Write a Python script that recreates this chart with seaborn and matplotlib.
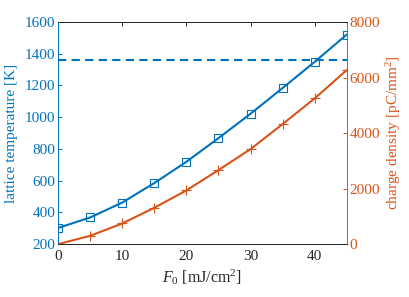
import numpy as np
import pandas as pd
import matplotlib
matplotlib.use('Agg')
import matplotlib.pyplot as plt
import seaborn as sns

fluence = [0, 5, 10, 15, 20, 25, 30, 35, 40, 45]
lattice_temp = [302, 368, 462, 585, 719, 868, 1022, 1184, 1349, 1521]
charge_density = [0, 300, 745, 1310, 1935, 2667, 3423, 4324, 5250, 6270]
melting_temp = 1358

blue = '#0072BD'
orange = '#D95319'

sns.set_theme(style='white')
plt.rcParams['font.family'] = ['Liberation Serif', 'DejaVu Serif']
plt.rcParams['mathtext.fontset'] = 'custom'
plt.rcParams['mathtext.rm'] = 'Liberation Serif'
plt.rcParams['mathtext.it'] = 'Liberation Serif:italic'

df = pd.DataFrame({'F': fluence, 'T': lattice_temp, 'Q': charge_density})

fig, ax = plt.subplots(figsize=(4.09, 2.97), dpi=100)
fig.subplots_adjust(left=0.142, right=0.848, top=0.926, bottom=0.178)

sns.lineplot(data=df, x='F', y='T', ax=ax, color=blue, lw=1.5,
             marker='s', markersize=5.8, markerfacecolor='none',
             markeredgecolor=blue, markeredgewidth=0.8)
ax.axhline(melting_temp, color=blue, ls=(0, (4, 2.5)), lw=1.5)

ax2 = ax.twinx()
sns.lineplot(data=df, x='F', y='Q', ax=ax2, color=orange, lw=1.5,
             marker='+', markersize=7, markeredgecolor=orange,
             markeredgewidth=0.8)

ax.set_xlim(0, 45)
ax.set_ylim(200, 1600)
ax2.set_ylim(0, 8000)
ax.set_xticks([0, 10, 20, 30, 40])
ax.set_yticks(range(200, 1601, 200))
ax2.set_yticks(range(0, 8001, 2000))

ax.set_xlabel('$F_0$ [mJ/cm$^2$]', fontsize=11.5, color='#262626', labelpad=3)
ax.set_ylabel('lattice temperature [K]', fontsize=11, color=blue, labelpad=5)
ax2.set_ylabel('charge density [pC/mm$^2$]', fontsize=11, color=orange, labelpad=3)

for a in (ax, ax2):
    for s in a.spines.values():
        s.set_linewidth(0.7)
        s.set_color('#262626')
ax2.spines['left'].set_color(blue)
ax2.spines['right'].set_color(orange)
ax.spines['left'].set_color(blue)
ax.spines['right'].set_visible(False)

ax.tick_params(axis='x', direction='in', length=3, width=0.7, colors='#262626',
               labelsize=11, top=True, pad=4)
ax.tick_params(axis='y', direction='in', length=3, width=0.7, colors=blue,
               labelsize=11, pad=2, right=False)
ax2.tick_params(axis='y', direction='in', length=3, width=0.7, colors=orange,
                labelsize=11, pad=2)
ax.set_zorder(ax2.get_zorder() + 1)
ax.patch.set_visible(False)

fig.savefig('out.png', dpi=100)
